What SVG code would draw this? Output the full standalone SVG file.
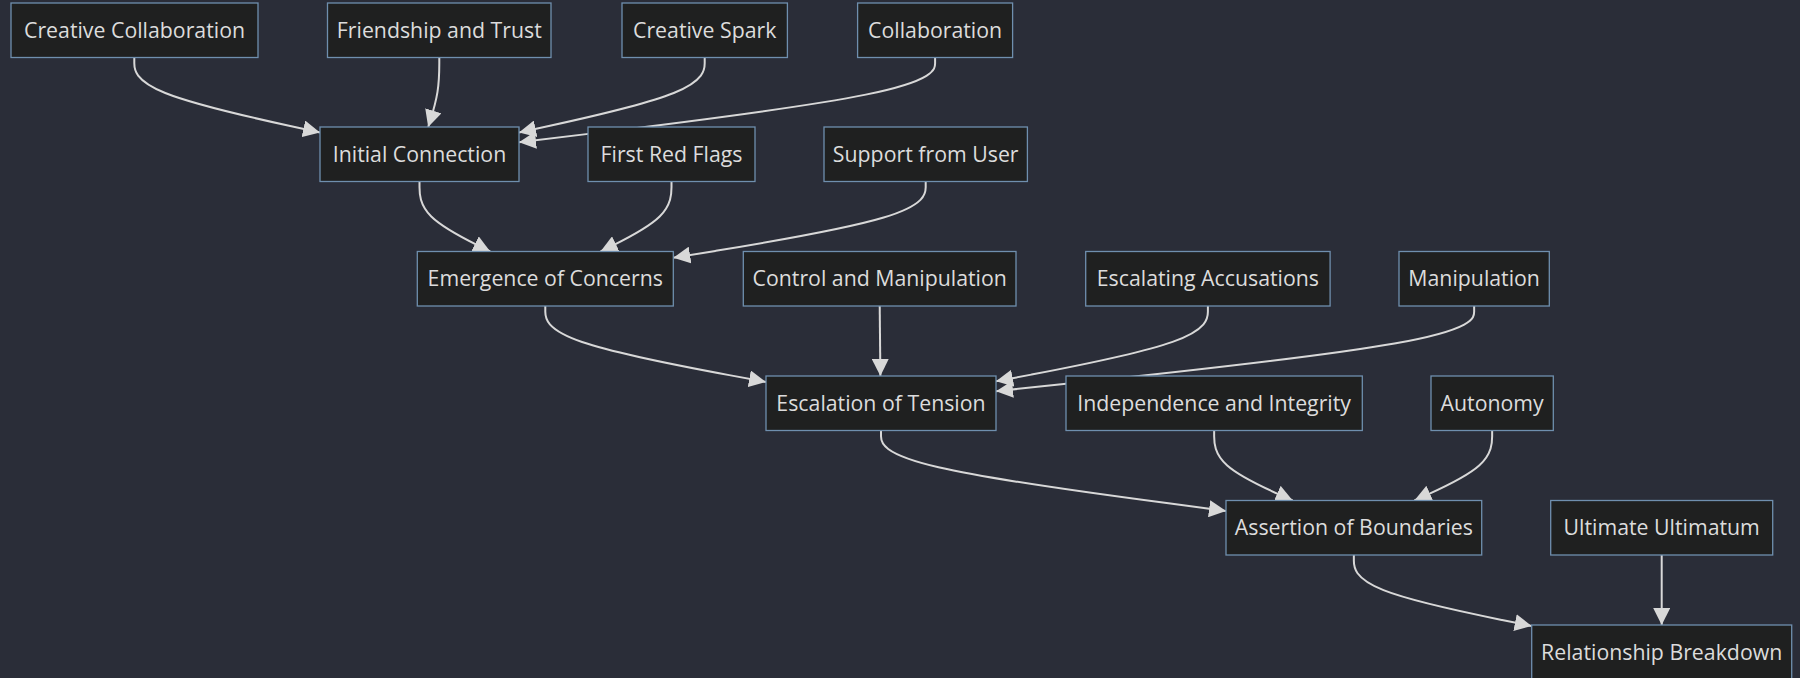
<svg xmlns="http://www.w3.org/2000/svg" width="1800" height="678" viewBox="0 0 1800 678">
<style>
  .bg { fill: #2a2d38; }
  .node rect { fill: #1f2020; stroke: #6f8fae; stroke-width: 1.3; }
  .node text { fill: #dcdcdc; font-family: "Open Sans", "Noto Sans", "DejaVu Sans", sans-serif; font-size: 21.3px; text-anchor: middle; }
  .edges path { fill: none; stroke: #d8d8d8; stroke-width: 2; }
</style>
<defs>
  <marker id="arrow" viewBox="0 0 10 10" refX="10" refY="5" markerUnits="userSpaceOnUse" markerWidth="17" markerHeight="17" orient="auto">
    <path d="M0,0 L10,5 L0,10 z" fill="#d8d8d8"/>
  </marker>
</defs>
<rect class="bg" x="0" y="0" width="1800" height="678"/>

<g id="connectors" class="edges">
  <path d="M134.3,57.5 L134.3,63.25 C134.3,69 134.3,80.5 165.25,93 C196.2,105.5 258.1,119 289.05,125.75 L320,132.5" marker-end="url(#arrow)"/>
  <path d="M439.3,57.5 L439.3,63.25 C439.3,69 439.3,80.5 437.45,92.08 C435.6,103.67 431.9,115.33 430.05,121.17 L428.2,127" marker-end="url(#arrow)"/>
  <path d="M704.7,57.5 L704.7,63.25 C704.7,69 704.7,80.5 673.75,93 C642.8,105.5 580.9,119 549.95,125.75 L519,132.5" marker-end="url(#arrow)"/>
  <path d="M935.1,57.5 L935.1,63.25 C935.1,69 935.1,80.5 865.75,94.62 C796.4,108.75 657.7,125.49 588.35,133.87 L519,142.24" marker-end="url(#arrow)"/>

  <path d="M419.5,181.5 L419.5,187.33 C419.5,193.17 419.5,204.83 431.28,216.5 C443.07,228.17 466.63,239.83 478.42,245.67 L490.2,251.5" marker-end="url(#arrow)"/>
  <path d="M671.5,181.5 L671.5,187.33 C671.5,193.17 671.5,204.83 659.67,216.5 C647.85,228.17 624.19,239.83 612.37,245.67 L600.54,251.5" marker-end="url(#arrow)"/>
  <path d="M925.7,181.5 L925.7,187.33 C925.7,193.17 925.7,204.83 883.63,217.55 C841.57,230.27 757.43,244.03 715.37,250.92 L673.3,257.8" marker-end="url(#arrow)"/>

  <path d="M545.3,306 L545.3,311.83 C545.3,317.67 545.3,329.33 582.08,341.99 C618.87,354.64 692.43,368.29 729.22,375.11 L766,381.93" marker-end="url(#arrow)"/>
  <path d="M879.7,306 L880.4,376" marker-end="url(#arrow)"/>
  <path d="M1207.9,306 L1207.9,311.83 C1207.9,317.67 1207.9,329.33 1172.58,341.89 C1137.27,354.45 1066.63,367.9 1031.32,374.63 L996,381.35" marker-end="url(#arrow)"/>
  <path d="M1474.15,306 L1474.15,311.83 C1474.15,317.67 1474.15,329.33 1394.46,343.53 C1314.77,357.73 1155.38,374.45 1075.69,382.82 L996,391.18" marker-end="url(#arrow)"/>

  <path d="M881,430.5 L881,436.33 C881,442.17 881,453.83 938.5,467.24 C996,480.64 1111,495.78 1168.5,503.35 L1226,510.92" marker-end="url(#arrow)"/>
  <path d="M1214.15,430.5 L1214.15,436.33 C1214.15,442.17 1214.15,453.83 1227.24,465.5 C1240.33,477.17 1266.52,488.83 1279.61,494.67 L1292.7,500.5" marker-end="url(#arrow)"/>
  <path d="M1492.15,430.5 L1492.15,436.33 C1492.15,442.17 1492.15,453.83 1479.19,465.5 C1466.23,477.17 1440.31,488.83 1427.35,494.67 L1414.39,500.5" marker-end="url(#arrow)"/>

  <path d="M1353.85,555 L1353.85,560.83 C1353.85,566.67 1353.85,578.33 1383.49,590.16 C1413.13,601.99 1472.42,613.97 1502.06,619.97 L1531.7,625.96" marker-end="url(#arrow)"/>
  <path d="M1661.7,555 L1661.7,625" marker-end="url(#arrow)"/>
</g>

<g id="creative-collaboration" class="node"><rect x="11" y="3" width="247" height="54.5"/><text x="134.5" y="37.9">Creative Collaboration</text></g>
<g id="friendship-and-trust" class="node"><rect x="327.5" y="3" width="223.5" height="54.5"/><text x="439.3" y="37.9">Friendship and Trust</text></g>
<g id="creative-spark" class="node"><rect x="622" y="3" width="165.4" height="54.5"/><text x="704.7" y="37.9">Creative Spark</text></g>
<g id="collaboration" class="node"><rect x="857.6" y="3" width="155" height="54.5"/><text x="935.1" y="37.9">Collaboration</text></g>

<g id="initial-connection" class="node"><rect x="320" y="127" width="199" height="54.5"/><text x="419.5" y="161.9">Initial Connection</text></g>
<g id="first-red-flags" class="node"><rect x="588" y="127" width="167" height="54.5"/><text x="671.5" y="161.9">First Red Flags</text></g>
<g id="support-from-user" class="node"><rect x="824" y="127" width="203.4" height="54.5"/><text x="925.7" y="161.9">Support from User</text></g>

<g id="emergence-of-concerns" class="node"><rect x="417.3" y="251.5" width="256" height="54.5"/><text x="545.3" y="286.4">Emergence of Concerns</text></g>
<g id="control-and-manipulation" class="node"><rect x="743.3" y="251.5" width="272.7" height="54.5"/><text x="879.7" y="286.4">Control and Manipulation</text></g>
<g id="escalating-accusations" class="node"><rect x="1085.7" y="251.5" width="244.4" height="54.5"/><text x="1207.9" y="286.4">Escalating Accusations</text></g>
<g id="manipulation" class="node"><rect x="1399" y="251.5" width="150.3" height="54.5"/><text x="1474.15" y="286.4">Manipulation</text></g>

<g id="escalation-of-tension" class="node"><rect x="766" y="376" width="230" height="54.5"/><text x="881" y="410.9">Escalation of Tension</text></g>
<g id="independence-and-integrity" class="node"><rect x="1066" y="376" width="296.3" height="54.5"/><text x="1214.15" y="410.9">Independence and Integrity</text></g>
<g id="autonomy" class="node"><rect x="1431" y="376" width="122.3" height="54.5"/><text x="1492.15" y="410.9">Autonomy</text></g>

<g id="assertion-of-boundaries" class="node"><rect x="1226" y="500.5" width="255.7" height="54.5"/><text x="1353.85" y="535.4">Assertion of Boundaries</text></g>
<g id="ultimate-ultimatum" class="node"><rect x="1550.7" y="500.5" width="222" height="54.5"/><text x="1661.7" y="535.4">Ultimate Ultimatum</text></g>

<g id="relationship-breakdown" class="node"><rect x="1531.7" y="625" width="260" height="54.5"/><text x="1661.7" y="659.9">Relationship Breakdown</text></g>
</svg>
